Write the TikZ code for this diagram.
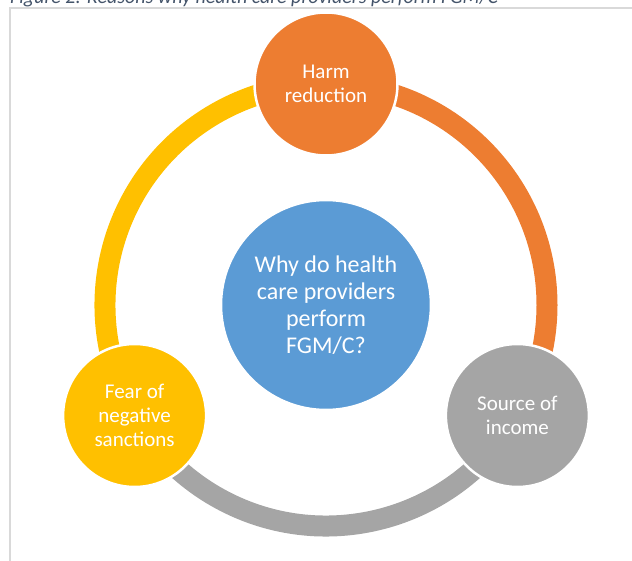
\documentclass[tikz,border=0pt]{standalone}
\usepackage{fontspec}
\setmainfont{Carlito}
\usetikzlibrary{backgrounds}
\definecolor{harmorange}{HTML}{ED7D31}
\definecolor{incomegray}{HTML}{A5A5A5}
\definecolor{fearyellow}{HTML}{FFC000}
\definecolor{whyblue}{HTML}{5B9BD5}
\definecolor{captionblue}{HTML}{44546A}
\definecolor{framegray}{HTML}{D9D9D9}

\begin{document}
\begin{tikzpicture}[x=1pt, y=1pt,
    reason/.style={circle, draw=white, line width=2.5pt, minimum size=143pt, inner sep=0pt,
        align=center, text=white, font=\fontsize{21}{24}\selectfont},
    band/.style={line width=21pt}]
    \useasboundingbox (0,0) rectangle (632,560);
    \node[anchor=base west, inner sep=0pt, text=captionblue, font=\fontsize{20}{24}\selectfont\itshape]
        (caption) at (10,556) {Figure 2: Reasons why health care providers perform FGM/C};
    \draw[framegray, line width=1.5pt] (10,-10) |- (660,552);
    \coordinate (ring) at (326,255);
    \node[reason, fill=whyblue, minimum size=210pt, font=\fontsize{24}{27}\selectfont] (why) at (ring)
        {Why do health\\care providers\\perform\\FGM/C?};
    \node[reason, fill=harmorange] (harm) at ([shift={(90:221)}]ring) {Harm\\reduction};
    \node[reason, fill=incomegray] (income) at ([shift={(-30:221)}]ring) {Source of\\income};
    \node[reason, fill=fearyellow] (fear) at ([shift={(210:221)}]ring) {Fear of\\negative\\sanctions};
    \begin{scope}[on background layer]
        \draw[band, harmorange] (harm.center) arc[start angle=90, end angle=-30, radius=221pt];
        \draw[band, incomegray] (income.center) arc[start angle=-30, end angle=-150, radius=221pt];
        \draw[band, fearyellow] (fear.center) arc[start angle=210, end angle=90, radius=221pt];
    \end{scope}
\end{tikzpicture}
\end{document}
